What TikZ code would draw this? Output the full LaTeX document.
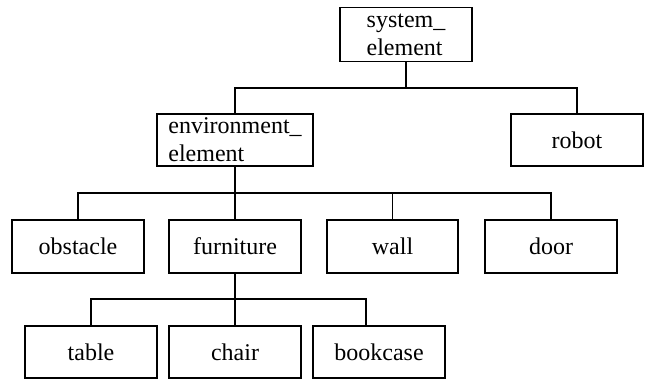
\documentclass[tikz,border=0pt]{standalone}
\usepackage{fontspec}
\setmainfont{Liberation Serif}
\usetikzlibrary{calc}
\begin{document}
\begin{tikzpicture}[x=1bp,y=-1bp,
  cls/.style={draw, line width=1.1bp, inner sep=0pt, minimum width=132bp, minimum height=52bp,
    font=\fontsize{24bp}{28bp}\selectfont, align=left},
  link/.style={line width=1.1bp}]
\fill[white] (0,0) rectangle (652,381);
\useasboundingbox (0,0) rectangle (652,381);
\node[cls, minimum height=54bp] (sys) at (406,34.5) {system\_\\element};
\node[cls, minimum width=156bp] (env) at (235,140) {environment\_\\element};
\node[cls] (robot) at (577,140) {robot};
\node[cls, minimum height=53bp] (obstacle) at (78,246.5) {obstacle};
\node[cls, minimum height=53bp] (furniture) at (235,246.5) {furniture};
\node[cls, minimum width=131bp, minimum height=53bp] (wall) at (392.5,246.5) {wall};
\node[cls, minimum height=53bp] (door) at (551,246.5) {door};
\node[cls] (table) at (91,352) {table};
\node[cls] (chair) at (235,352) {chair};
\node[cls] (bookcase) at (379,352) {bookcase};
\coordinate (j1) at (406,88);
\coordinate (j2) at (235,193);
\coordinate (j3) at (235,299);
\draw[link] (sys.south) -- (j1);
\draw[link] (env.north) |- (j1) -| (robot.north);
\draw[link] (env.south) -- (j2);
\draw[link] (obstacle.north) |- (j2) -| (door.north);
\draw[link] (furniture.north) -- (j2);
\draw[link] (wall.north) -- (wall.north |- j2);
\draw[link] (furniture.south) -- (j3);
\draw[link] (table.north) |- (j3) -| ($(bookcase.north)+(-13,0)$);
\draw[link] (chair.north) -- (j3);
\end{tikzpicture}
\end{document}
